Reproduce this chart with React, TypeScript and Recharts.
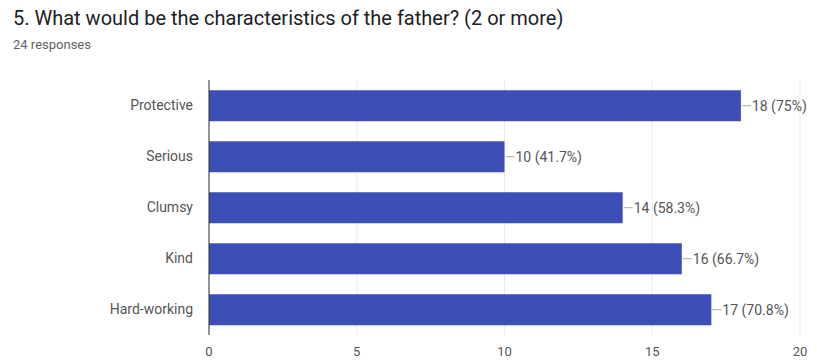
import React from 'react';
import { BarChart, Bar, XAxis, YAxis, CartesianGrid, LabelList } from 'recharts';

const categories = ['Protective', 'Serious', 'Clumsy', 'Kind', 'Hard-working'];
const counts = [18, 10, 14, 16, 17];
const xTicks = [0, 5, 10, 15, 20];
const totalResponses = 24;

const BAR_COLOR = '#3d4fb6';
const FONT = "Roboto, Arial, sans-serif";

const data = categories.map((name, i) => ({ name, value: counts[i] }));

const formatPct = (v: number) => {
  const pct = Math.round((v / totalResponses) * 1000) / 10;
  return `${v} (${pct}%)`;
};

// value label with a short leader line off the end of the bar
const ValueLabel = (props: any) => {
  const { x, y, width, height, value } = props;
  const x0 = x + width;
  const cy = y + height / 2;
  return (
    <g>
      <line x1={x0 + 1} y1={cy} x2={x0 + 10} y2={cy} stroke="#aaa" strokeWidth={1} />
      <text x={x0 + 11} y={cy} dy="0.35em" fontSize={14} fill="#555" fontFamily={FONT}>
        {formatPct(value)}
      </text>
    </g>
  );
};

export default function App() {
  return (
    <div
      style={{
        position: 'absolute',
        left: 0,
        top: 0,
        width: 817,
        height: 362,
        background: '#fff',
        fontFamily: FONT,
      }}
    >
      <div
        style={{
          position: 'absolute',
          left: 13,
          top: 6,
          fontSize: 20,
          color: '#202124',
          whiteSpace: 'nowrap',
        }}
      >
        5. What would be the characteristics of the father? (2 or more)
      </div>
      <div
        style={{
          position: 'absolute',
          left: 13,
          top: 37,
          fontSize: 13,
          color: '#5f6368',
        }}
      >
        {totalResponses} responses
      </div>
      <div style={{ position: 'absolute', left: 0, top: 0 }}>
        <BarChart
          width={817}
          height={362}
          data={data}
          layout="vertical"
          margin={{ top: 80, right: 17, bottom: 7, left: 0 }}
          barCategoryGap="20%"
        >
          <CartesianGrid horizontal={false} vertical stroke="#ececec" />
          <XAxis
            type="number"
            domain={[0, 20]}
            ticks={xTicks}
            axisLine={false}
            tickLine={false}
            tickSize={0}
            tickMargin={12}
            height={20}
            tick={{ fontSize: 13, fill: '#555', fontFamily: FONT }}
          />
          <YAxis
            type="category"
            dataKey="name"
            width={209}
            axisLine={{ stroke: '#333' }}
            tickLine={false}
            tickSize={0}
            tickMargin={16}
            tick={{ fontSize: 14, fill: '#555', fontFamily: FONT }}
          />
          <Bar dataKey="value" fill={BAR_COLOR} isAnimationActive={false}>
            <LabelList dataKey="value" content={ValueLabel} />
          </Bar>
        </BarChart>
      </div>
    </div>
  );
}
